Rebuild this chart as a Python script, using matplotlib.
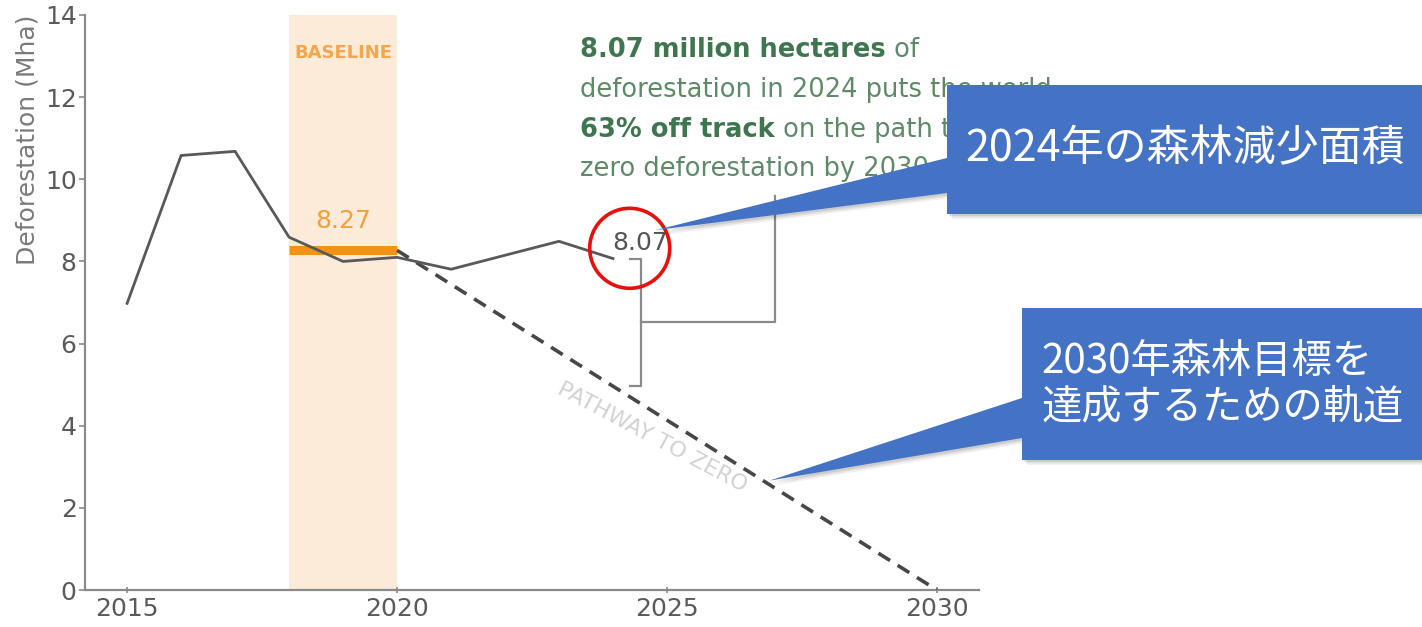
import numpy as np
import matplotlib.pyplot as plt
from matplotlib.patches import Polygon, Circle

# annual tree cover loss (Mha)
years = [2015, 2016, 2017, 2018, 2019, 2020, 2021, 2022, 2023, 2024]
deforestation = [6.98, 10.58, 10.68, 8.59, 8.0, 8.1, 7.81, 8.15, 8.49, 8.07]

baseline_years = [2018, 2020]
baseline_value = 8.27
pathway_years = [2020, 2030]
pathway_values = [8.27, 0.0]

xticks = [2015, 2020, 2025, 2030]
yticks = [0, 2, 4, 6, 8, 10, 12, 14]

callout_latest = '2024年の森林減少面積'
callout_pathway = '2030年森林目標を\n達成するための軌道'

plt.rcParams['font.family'] = ['DejaVu Sans', 'Noto Sans CJK JP']

W, H = 1422, 627
fig = plt.figure(figsize=(W / 100, H / 100), dpi=100)
ax = fig.add_axes([85 / W, 1 - 590 / H, (979 - 85) / W, (590 - 15) / H])

GRAY = '#8a8a8a'
ORANGE = '#f39313'

ax.axvspan(*baseline_years, color='#fdebd9', lw=0, zorder=0)
ax.plot(baseline_years, [baseline_value] * 2, color=ORANGE, lw=6.5,
        solid_capstyle='butt', zorder=2)
ax.plot(pathway_years, pathway_values, color='#474747', lw=2.6,
        dashes=(3.8, 2.5), zorder=3)
ax.plot(years, deforestation, color='#595959', lw=2.0, zorder=4)

ax.text(np.mean(baseline_years), 13.07, 'BASELINE', color='#f5a54a',
        fontsize=13, fontweight='bold', ha='center', va='center')
ax.text(np.mean(baseline_years), 8.98, f'{baseline_value:.2f}', color='#f0a040',
        fontsize=18, ha='center', va='center')
ax.text(years[-1] - 0.02, deforestation[-1] + 0.37, f'{deforestation[-1]:.2f}',
        color='#555555', fontsize=18, ha='left', va='center')

# gap between the 2024 value and the pathway
path_2024 = np.interp(years[-1], pathway_years, pathway_values)
bx = years[-1] + 0.52
ax.plot([bx - 0.2, bx, bx, bx - 0.2],
        [deforestation[-1], deforestation[-1], path_2024, path_2024],
        color=GRAY, lw=1.6, zorder=3)
mid = (deforestation[-1] + path_2024) / 2
ax.plot([bx, 2027.0, 2027.0], [mid, mid, 9.6], color=GRAY, lw=1.6, zorder=3)

# label along the pathway
p0 = ax.transData.transform((pathway_years[0], pathway_values[0]))
p1 = ax.transData.transform((pathway_years[1], pathway_values[1]))
angle = np.degrees(np.arctan2(p1[1] - p0[1], p1[0] - p0[0]))
ax.text(2024.72, 3.72, 'PATHWAY TO ZERO', color='#d2d2d2', fontsize=16,
        rotation=angle, rotation_mode='anchor', ha='center', va='center')

ax.set_xlim(2014.22, 2030.78)
ax.set_ylim(0, 14)
ax.set_xticks(xticks)
ax.set_yticks(yticks)
for side in ['top', 'right']:
    ax.spines[side].set_visible(False)
for side in ['left', 'bottom']:
    ax.spines[side].set_color(GRAY)
    ax.spines[side].set_linewidth(1.6)
ax.tick_params(colors=GRAY, labelcolor='#5a5a5a', labelsize=18, length=4,
               width=1.2)
ax.tick_params(axis='x', direction='inout', pad=3)
ax.tick_params(axis='y', pad=2)
ax.set_ylabel('Deforestation (Mha)', loc='top', fontsize=18, color='#7a7a7a',
              labelpad=4)

# overlay in pixel units for the text block and callouts
ov = fig.add_axes([0, 0, 1, 1], zorder=10)
ov.set_xlim(0, W)
ov.set_ylim(H, 0)
ov.axis('off')


def to_px(x, y):
    dx, dy = ax.transData.transform((x, y))
    return dx, H - dy


GREEN_B = '#3f7650'
GREEN = '#5e8a68'
fs = 18.5
tx = 580
t = ov.text(tx, 57, '8.07 million hectares', color=GREEN_B, fontsize=fs,
            fontweight='bold', va='baseline')
ov.annotate(' of', xy=(1, 0), xycoords=t, color=GREEN, fontsize=fs, va='bottom')
ov.text(tx, 97, 'deforestation in 2024 puts the world', color=GREEN,
        fontsize=fs, va='baseline')
t = ov.text(tx, 137, '63% off track', color=GREEN_B, fontsize=fs,
            fontweight='bold', va='baseline')
ov.annotate(' on the path to', xy=(1, 0), xycoords=t, color=GREEN, fontsize=fs,
            va='bottom')
ov.text(tx, 176, 'zero deforestation by 2030.', color=GREEN, fontsize=fs,
        va='baseline')

# red highlight around the 2024 value
cx, cy = to_px(years[-1] + 0.31, deforestation[-1] + 0.25)
ov.add_patch(Circle((cx, cy), 40, fill=False, ec='#e8100c', lw=2.6, zorder=5))

BLUE = '#4472c4'


def callout(x0, x1, y0, y1, base, tip, text, size):
    verts = [(x0, y0), (x1, y0), (x1, y1), (x0, y1), (x0, base[1]), tip,
             (x0, base[0])]
    for off, a in [(5, 0.05), (3.5, 0.07), (2, 0.09)]:
        ov.add_patch(Polygon([(x + off, y + off) for x, y in verts], closed=True,
                             fc='black', alpha=a, lw=0, zorder=6))
    ov.add_patch(Polygon(verts, closed=True, fc=BLUE, lw=0, zorder=7))
    ov.text((x0 + x1) / 2, (y0 + y1) / 2, text, color='white', fontsize=size,
            family=['Noto Sans CJK JP', 'DejaVu Sans'], ha='center',
            va='center', multialignment='left', linespacing=1.15, zorder=8)


tip1 = to_px(years[-1] + 0.78, 8.76)
callout(947, 1424, 85, 214, (158, 193), tip1, callout_latest, 31)
tip2_x = 2026.9
tip2 = to_px(tip2_x, np.interp(tip2_x, pathway_years, pathway_values) + 0.1)
callout(1022, 1424, 308, 460, (398, 438), tip2, callout_pathway, 29)

fig.savefig('out.png', dpi=100)
